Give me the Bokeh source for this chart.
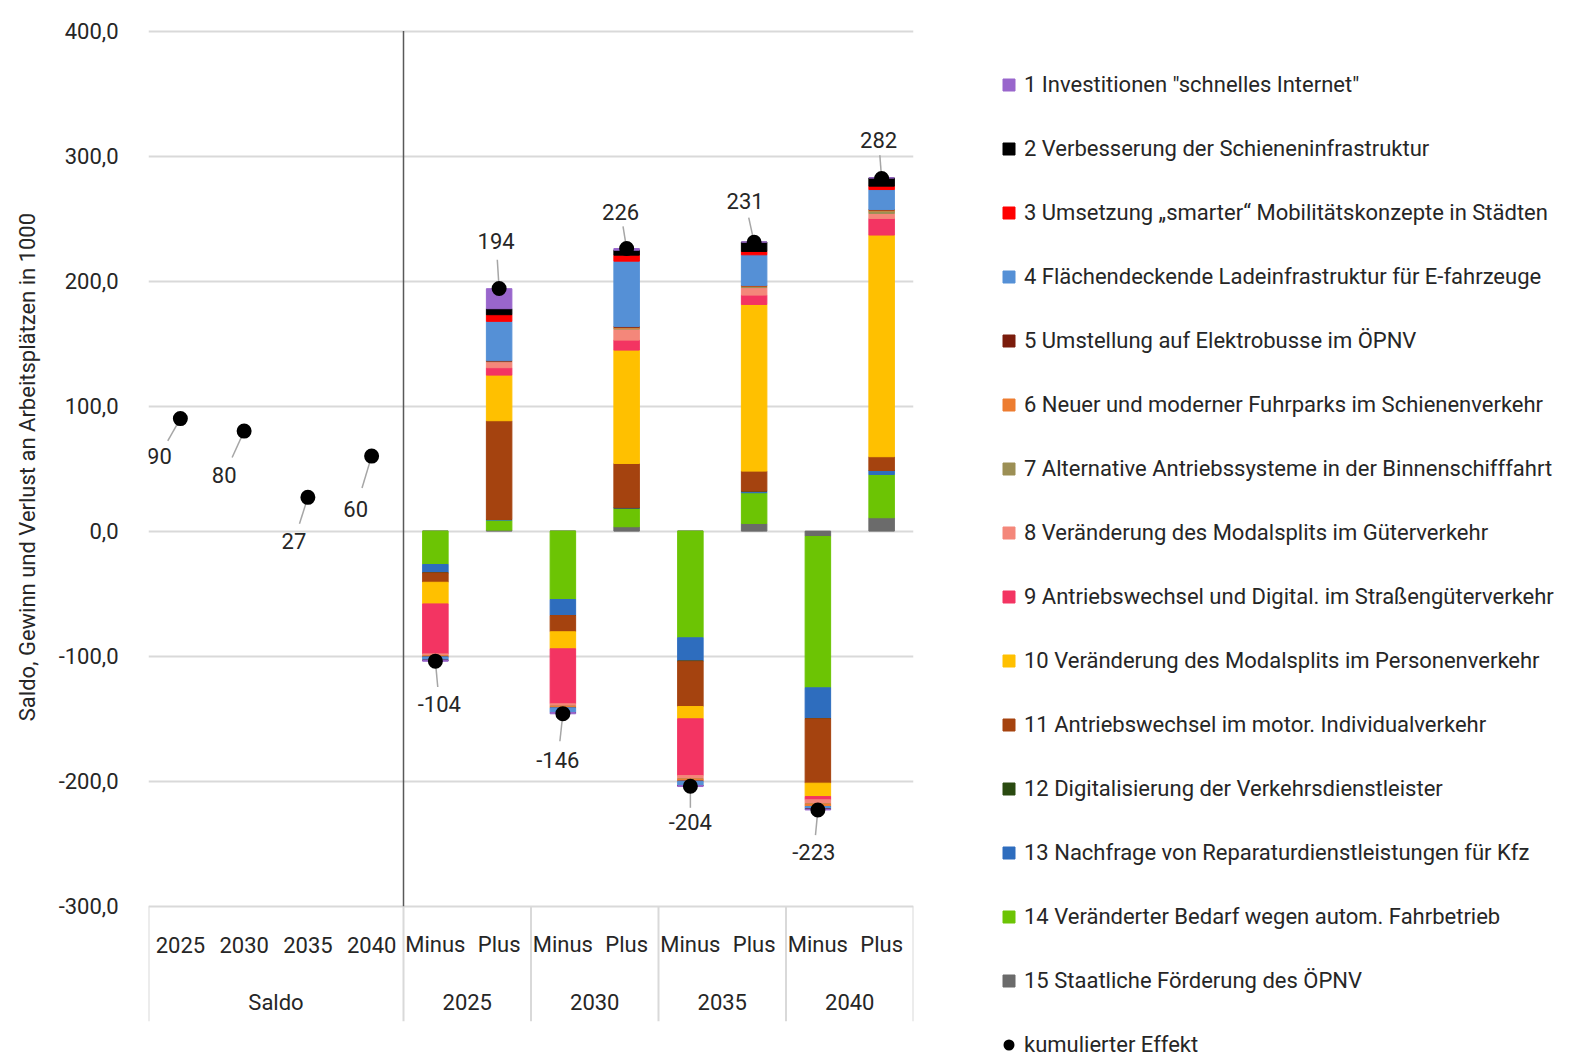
from bokeh.plotting import figure
from bokeh.models import (ColumnDataSource, FactorRange, Range1d, FixedTicker,
                          CustomJSTickFormatter, Legend, LegendItem)
from bokeh.core.properties import value
from bokeh.embed import file_html
from bokeh.resources import INLINE

FONT = "Roboto"
TXT = "#262626"

# ---------------- data ----------------
saldo_group = "Saldo"
years = ["2025", "2030", "2035", "2040"]
sides = ["Minus", "Plus"]

measure_names = [
    '1 Investitionen "schnelles Internet"',
    "2 Verbesserung der Schieneninfrastruktur",
    "3 Umsetzung \u201esmarter\u201c Mobilit\u00e4tskonzepte in St\u00e4dten",
    "4 Fl\u00e4chendeckende Ladeinfrastruktur f\u00fcr E-fahrzeuge",
    "5 Umstellung auf Elektrobusse im \u00d6PNV",
    "6 Neuer und moderner Fuhrparks im Schienenverkehr",
    "7 Alternative Antriebssysteme in der Binnenschifffahrt",
    "8 Ver\u00e4nderung des Modalsplits im G\u00fcterverkehr",
    "9 Antriebswechsel und Digital. im Stra\u00dfeng\u00fcterverkehr",
    "10 Ver\u00e4nderung des Modalsplits im Personenverkehr",
    "11 Antriebswechsel im motor. Individualverkehr",
    "12 Digitalisierung der Verkehrsdienstleister",
    "13 Nachfrage von Reparaturdienstleistungen f\u00fcr Kfz",
    "14 Ver\u00e4nderter Bedarf wegen autom. Fahrbetrieb",
    "15 Staatliche F\u00f6rderung des \u00d6PNV",
]
measure_colors = [
    "#9966cc", "#000000", "#ff0000", "#5590d6", "#7b1c0c",
    "#ed7d31", "#9c8f55", "#f4877a", "#f33462", "#ffc000",
    "#a5430f", "#2a4a10", "#2e6dbe", "#6cc404", "#6b6b6b",
]

# order: Minus2025, Plus2025, Minus2030, Plus2030, Minus2035, Plus2035, Minus2040, Plus2040
m01 = [-0.7, 16.0, -1.0, 1.3, -0.8, 0.0, -0.5, 0.0]
m02 = [0.0, 4.8, 0.0, 4.0, 0.0, 7.5, 0.0, 6.6]
m03 = [0.0, 5.3, 0.0, 4.8, 0.0, 2.7, 0.0, 2.7]
m04 = [-2.8, 31.5, -3.8, 52.3, -3.5, 24.5, -2.2, 16.0]
m05 = [0.0, 0.3, 0.0, 0.5, 0.0, 0.4, 0.0, 0.4]
m06 = [-0.9, 0.3, -1.2, 0.7, -1.7, 0.4, -2.0, 0.7]
m07 = [0.0, 0.2, 0.0, 0.8, 0.0, 0.9, 0.0, 2.0]
m08 = [-1.5, 4.8, -2.0, 8.8, -2.8, 6.0, -3.4, 4.0]
m09 = [-40.0, 5.9, -44.0, 8.0, -45.4, 7.5, -2.6, 13.3]
m10 = [-17.3, 36.5, -13.6, 90.7, -9.8, 133.3, -10.7, 177.3]
m11 = [-7.5, 79.0, -13.0, 35.4, -36.3, 16.0, -51.5, 11.0]
m12 = [0.0, 0.0, 0.0, 0.0, 0.0, 0.0, 0.0, 0.0]
m13 = [-6.7, 0.5, -12.8, 0.5, -18.7, 1.3, -24.8, 3.2]
m14 = [-26.7, 8.0, -54.7, 14.7, -85.3, 24.6, -121.0, 34.6]
m15 = [0.0, 0.8, 0.0, 3.5, 0.0, 6.1, -4.3, 10.7]

saldo = [90, 80, 27, 60]
cum_minus = [-104, -146, -204, -223]
cum_plus = [194, 226, 231, 282]

y_ticks = [-300, -200, -100, 0, 100, 200, 300, 400]
y_title = "Saldo, Gewinn und Verlust  an Arbeitspl\u00e4tzen in 1000"

# label offsets of the cumulative values (screen px, y downwards)
label_dx = [-21, -20, -14, -16, 4, -3, -5, -6, 0, -9, -4, -3]
label_dy = [37, 44, 44, 53, 43, -48, 46, -37, 36, -41, 42, -39]

# ---------------- layout ----------------
TABLE_BOTTOM = -392
Y_MIN, Y_MAX = -413, 402
PX_PER_UNIT = 1.25
FRAME_W = 765
FRAME_H = round((Y_MAX - Y_MIN) * PX_PER_UNIT)

saldo_factors = [(saldo_group, y) for y in years]
mp_factors = [(y, s) for y in years for s in sides]
factors = saldo_factors + mp_factors

p = figure(
    x_range=FactorRange(factors=factors, factor_padding=0, group_padding=0,
                        subgroup_padding=0, range_padding=0),
    y_range=Range1d(Y_MIN, Y_MAX),
    frame_width=FRAME_W, frame_height=FRAME_H,
    min_border_left=148, min_border_right=660, min_border_top=28, min_border_bottom=7,
    x_axis_location=None, output_backend="svg", toolbar_location=None,
    background_fill_color="white", border_fill_color="white",
)
p.outline_line_color = None

# y axis (title padded with no-break spaces so that it is centred on the -300..400 span)
yax = p.yaxis[0]
yax.ticker = FixedTicker(ticks=y_ticks)
yax.formatter = CustomJSTickFormatter(code="return tick.toFixed(1).replace('.', ',');")
yax.axis_line_color = None
yax.major_tick_line_color = None
yax.minor_tick_line_color = None
yax.major_tick_out = 0
yax.major_tick_in = 0
yax.minor_tick_out = 0
yax.major_label_text_font = FONT
yax.major_label_text_font_size = "22px"
yax.major_label_text_color = TXT
yax.major_label_standoff = 30
yax.axis_label = "\u00a0" * 27 + y_title
yax.axis_label_text_font = FONT
yax.axis_label_text_font_size = "22px"
yax.axis_label_text_font_style = "normal"
yax.axis_label_text_color = TXT
yax.axis_label_standoff = 16

p.xgrid.visible = False
p.ygrid.ticker = FixedTicker(ticks=y_ticks)
p.ygrid.grid_line_color = "#d9d9d9"
p.ygrid.grid_line_width = 2

# table frame below the chart (x-axis categories)
group_sizes = [len(saldo_factors)] + [len(sides)] * len(years)
bounds = [0]
for g in group_sizes:
    bounds.append(bounds[-1] + g)
p.segment(x0=bounds, y0=[y_ticks[0]] * len(bounds), x1=bounds, y1=[TABLE_BOTTOM] * len(bounds),
          line_color="#d9d9d9", line_width=2)
# dark separator between Saldo and the Minus/Plus groups
p.segment(x0=[bounds[1]], y0=[y_ticks[0]], x1=[bounds[1]], y1=[y_ticks[-1]],
          line_color="#595959", line_width=1.5)

# category labels
sub_labels = [f[1] for f in factors]
p.text(x=factors, y=[-331] * len(factors), text=sub_labels,
       text_font=value(FONT), text_font_size="22px", text_color=TXT,
       text_align="center", text_baseline="middle")
groups = [saldo_group] + years
p.text(x=groups, y=[-377] * len(groups), text=groups,
       text_font=value(FONT), text_font_size="22px", text_color=TXT,
       text_align="center", text_baseline="middle")

# stacked bars
cols = {"cat": mp_factors}
series = [m01, m02, m03, m04, m05, m06, m07, m08, m09, m10, m11, m12, m13, m14, m15]
keys = [f"m{i + 1:02d}" for i in range(len(series))]
for k, s in zip(keys, series):
    cols[k] = s
bar_src = ColumnDataSource(cols)
stack_keys = keys[::-1]
stack_cols = measure_colors[::-1]
bar_renderers = p.vbar_stack(stack_keys, x="cat", width=0.4, color=stack_cols, source=bar_src)
rmap = dict(zip(stack_keys, bar_renderers))

# cumulative effect dots with labels and leader lines
cum_vals = saldo + [v for pair in zip(cum_minus, cum_plus) for v in pair]
px_cat = FRAME_W / len(factors)
xs_num = [i + 0.5 for i in range(len(factors))]
lead_x1 = [x + dx * 0.6 / px_cat for x, dx in zip(xs_num, label_dx)]
lead_y1 = [v - dy * 0.6 / PX_PER_UNIT for v, dy in zip(cum_vals, label_dy)]
p.segment(x0=xs_num, y0=cum_vals, x1=lead_x1, y1=lead_y1, line_color="#a6a6a6", line_width=1.5)

cum_src = ColumnDataSource(dict(cat=factors, val=cum_vals, lab=[str(v) for v in cum_vals],
                                dx=label_dx, dy=label_dy))
dots = p.scatter(x="cat", y="val", source=cum_src, size=10, marker="circle",
                 fill_color="black", line_color="black", line_width=5)
p.text(x="cat", y="val", text="lab", x_offset="dx", y_offset="dy", source=cum_src,
       text_font=value(FONT), text_font_size="22px", text_color=TXT,
       text_align="center", text_baseline="middle")

# legend
items = [LegendItem(label=n, renderers=[rmap[k]]) for n, k in zip(measure_names, keys)]
items.append(LegendItem(label="kumulierter Effekt", renderers=[dots]))
legend = Legend(items=items, location=(88, -10), orientation="vertical",
                glyph_width=15, glyph_height=15, label_height=24, label_standoff=8,
                spacing=39, padding=0, margin=0, border_line_color=None,
                background_fill_alpha=0, label_text_font=FONT,
                label_text_font_size="22px", label_text_color=TXT)
p.add_layout(legend, "right")

open("out.html", "w").write(file_html(p, INLINE))
